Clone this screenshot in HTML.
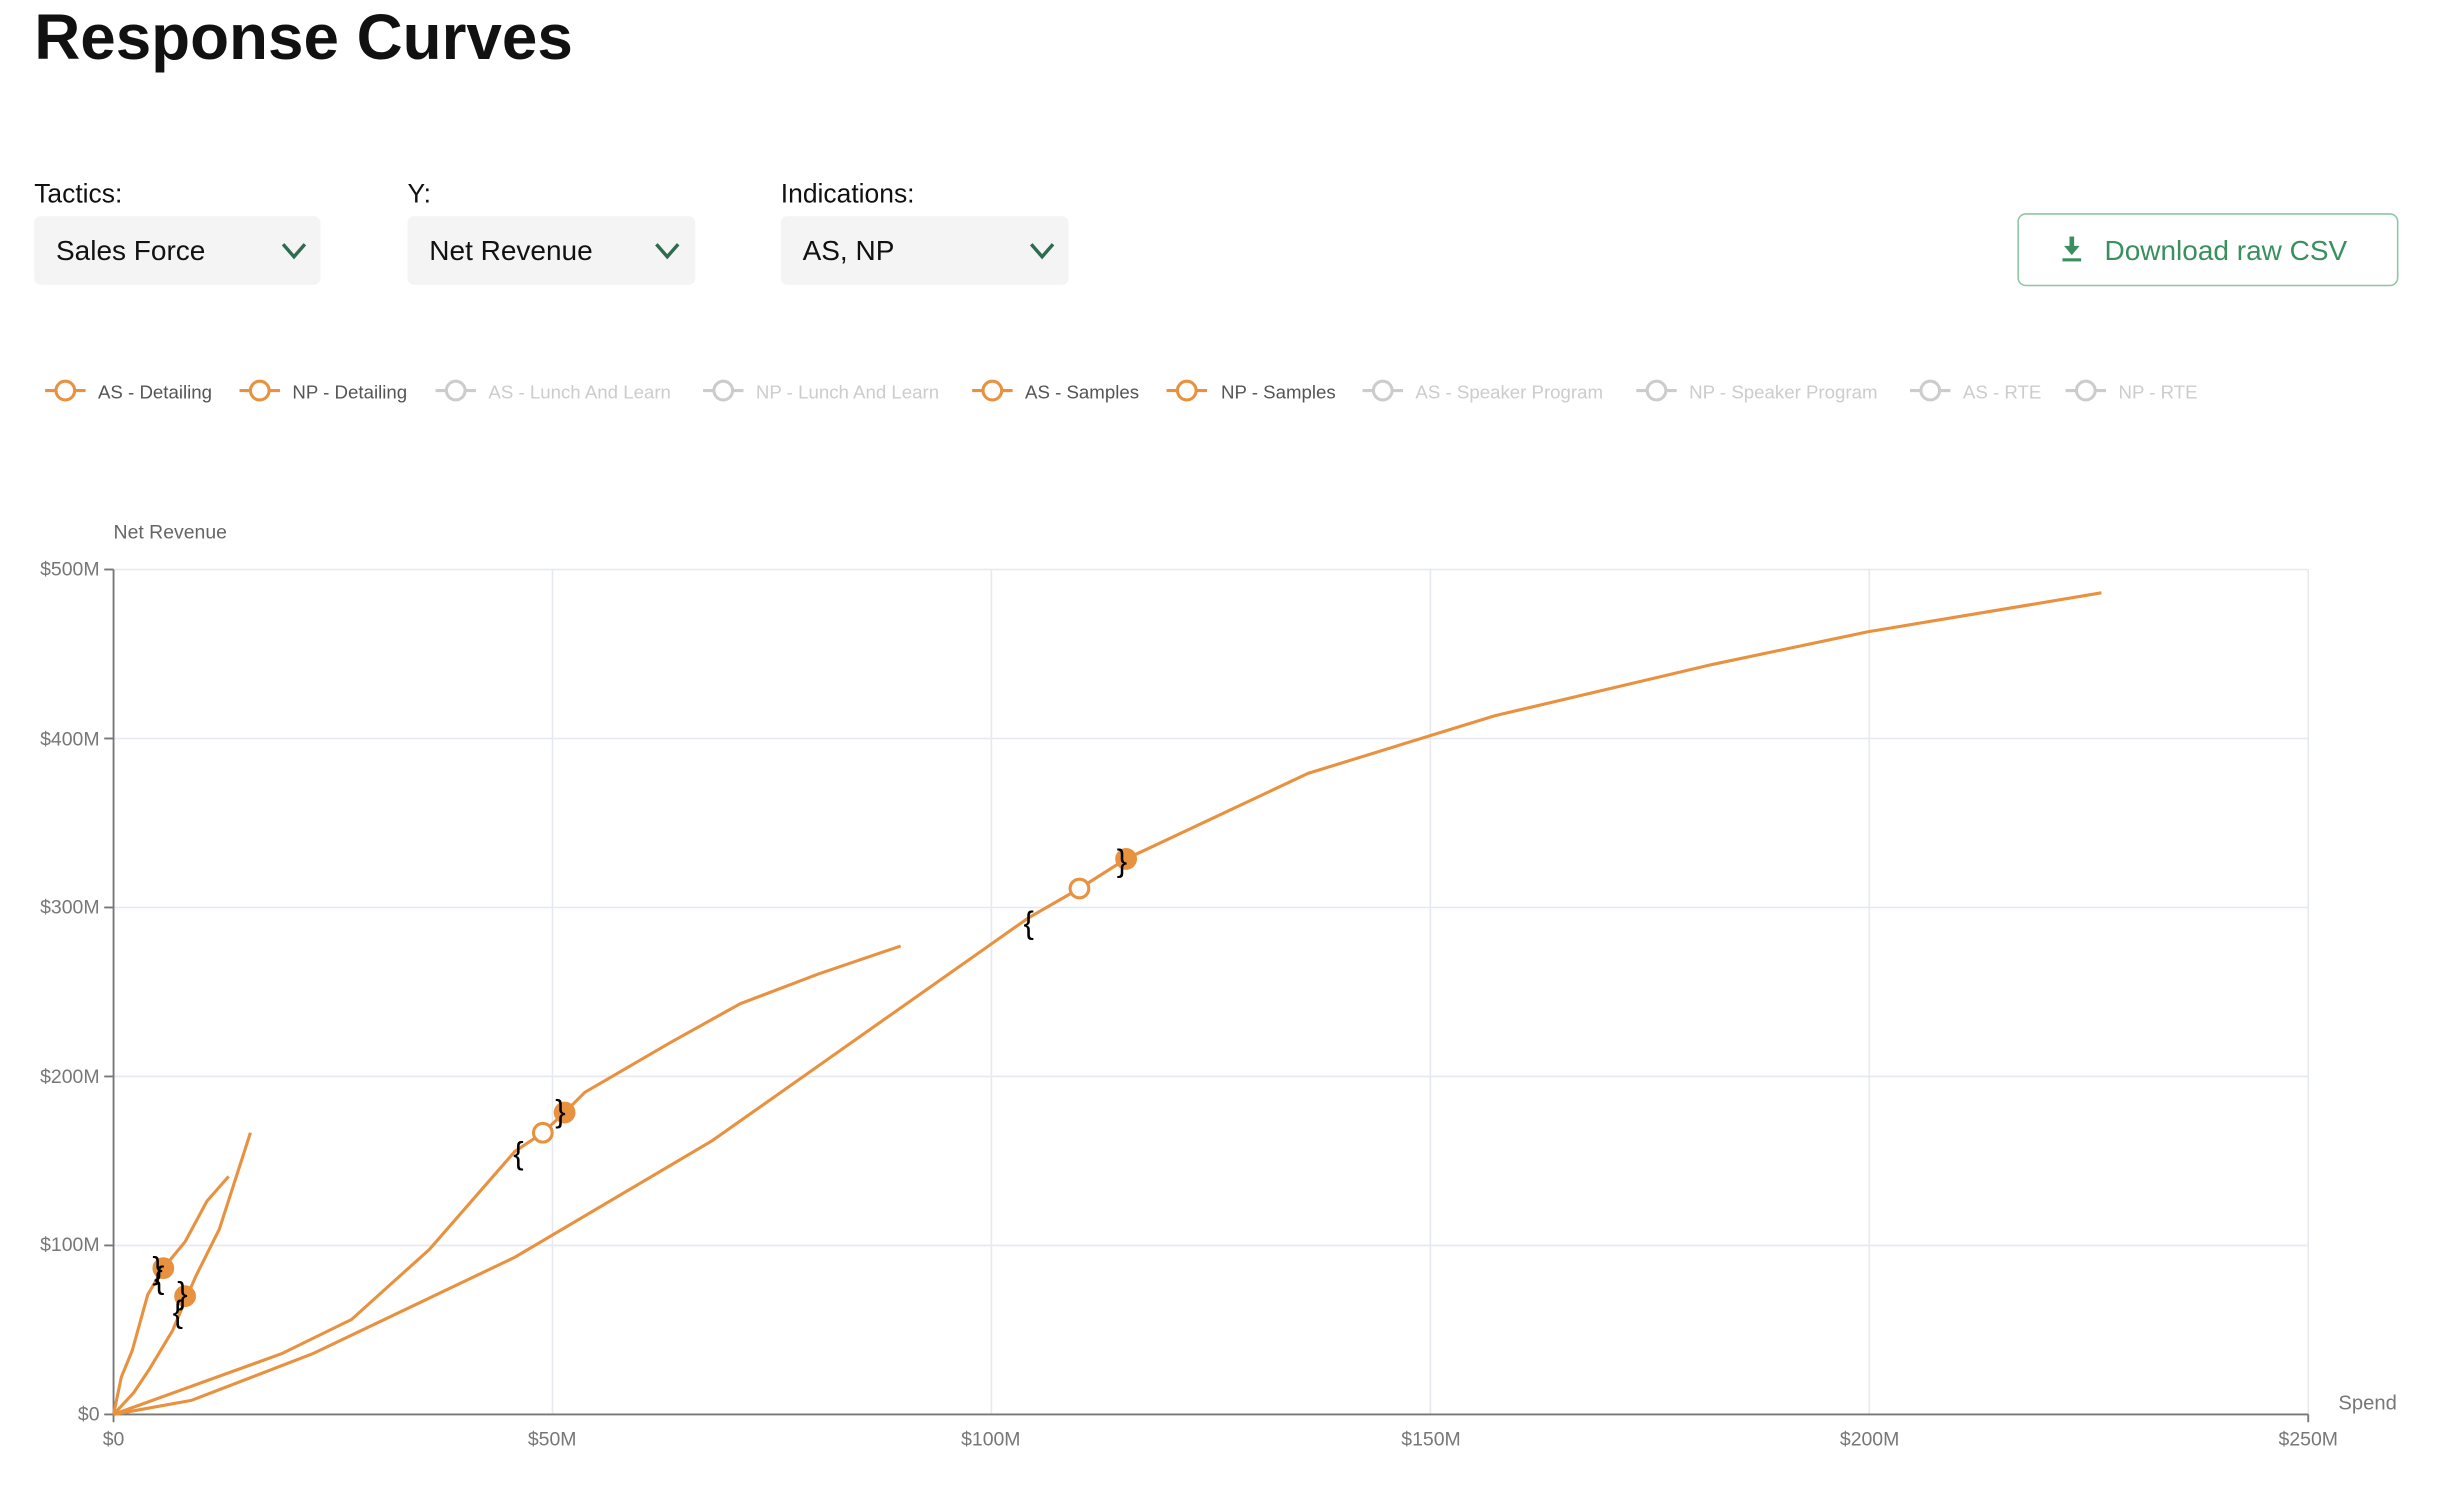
<!DOCTYPE html>
<html><head><meta charset="utf-8"><style>
html,body{margin:0;padding:0;background:#fff;width:2442px;height:1486px;overflow:hidden}
svg{display:block}
text{font-family:"Liberation Sans",sans-serif}
</style></head><body>
<svg width="2442" height="1486" viewBox="-1 0 1570 955" preserveAspectRatio="none" xmlns="http://www.w3.org/2000/svg">
<text x="21" y="38" font-size="41" font-weight="bold" fill="#111">Response Curves</text>
<text x="21" y="130" font-size="17" fill="#111">Tactics:</text>
<text x="261" y="130" font-size="17" fill="#111">Y:</text>
<text x="501" y="130" font-size="17" fill="#111">Indications:</text>
<rect x="21" y="139" width="184" height="44" rx="4" fill="#f4f4f4"/>
<rect x="261" y="139" width="185" height="44" rx="4" fill="#f4f4f4"/>
<rect x="501" y="139" width="185" height="44" rx="4" fill="#f4f4f4"/>
<text x="35" y="167" font-size="18" fill="#111">Sales Force</text>
<text x="275" y="167" font-size="18" fill="#111">Net Revenue</text>
<text x="515" y="167" font-size="18" fill="#111">AS, NP</text>
<g fill="none" stroke="#2e6b4f" stroke-width="2.2">
<polyline points="181,157 188,165 195,157"/>
<polyline points="421,157 428,165 435,157"/>
<polyline points="662,157 669,165 676,157"/>
</g>
<rect x="1296.5" y="137.5" width="244" height="46" rx="5" fill="#fff" stroke="#8cc6a4" stroke-width="1"/>
<g fill="#3a8f5f"><rect x="1329.5" y="152" width="3" height="7"/><polygon points="1326,158 1336,158 1331,164"/><rect x="1325" y="166" width="12" height="2"/></g>
<text x="1352" y="167" font-size="18" fill="#3a8f5f">Download raw CSV</text>
<g font-size="12">
<g stroke="#e8913f" stroke-width="2" fill="#fff"><line x1="28" y1="251" x2="54" y2="251"/><circle cx="41" cy="251" r="6"/></g><text x="62" y="256" fill="#555">AS - Detailing</text>
<g stroke="#e8913f" stroke-width="2" fill="#fff"><line x1="153" y1="251" x2="179" y2="251"/><circle cx="166" cy="251" r="6"/></g><text x="187" y="256" fill="#555">NP - Detailing</text>
<g stroke="#ccc" stroke-width="2" fill="#fff"><line x1="279" y1="251" x2="305" y2="251"/><circle cx="292" cy="251" r="6"/></g><text x="313" y="256" fill="#ccc">AS - Lunch And Learn</text>
<g stroke="#ccc" stroke-width="2" fill="#fff"><line x1="451" y1="251" x2="477" y2="251"/><circle cx="464" cy="251" r="6"/></g><text x="485" y="256" fill="#ccc">NP - Lunch And Learn</text>
<g stroke="#e8913f" stroke-width="2" fill="#fff"><line x1="624" y1="251" x2="650" y2="251"/><circle cx="637" cy="251" r="6"/></g><text x="658" y="256" fill="#555">AS - Samples</text>
<g stroke="#e8913f" stroke-width="2" fill="#fff"><line x1="749" y1="251" x2="775" y2="251"/><circle cx="762" cy="251" r="6"/></g><text x="784" y="256" fill="#555">NP - Samples</text>
<g stroke="#ccc" stroke-width="2" fill="#fff"><line x1="875" y1="251" x2="901" y2="251"/><circle cx="888" cy="251" r="6"/></g><text x="909" y="256" fill="#ccc">AS - Speaker Program</text>
<g stroke="#ccc" stroke-width="2" fill="#fff"><line x1="1051" y1="251" x2="1077" y2="251"/><circle cx="1064" cy="251" r="6"/></g><text x="1085" y="256" fill="#ccc">NP - Speaker Program</text>
<g stroke="#ccc" stroke-width="2" fill="#fff"><line x1="1227" y1="251" x2="1253" y2="251"/><circle cx="1240" cy="251" r="6"/></g><text x="1261" y="256" fill="#ccc">AS - RTE</text>
<g stroke="#ccc" stroke-width="2" fill="#fff"><line x1="1327" y1="251" x2="1353" y2="251"/><circle cx="1340" cy="251" r="6"/></g><text x="1361" y="256" fill="#ccc">NP - RTE</text>
</g>
<text x="72" y="346" font-size="12.5" fill="#666">Net Revenue</text>
<g stroke="#e6e8f2" stroke-width="1">
<line x1="72" y1="366" x2="1483" y2="366"/><line x1="72" y1="474.6" x2="1483" y2="474.6"/><line x1="72" y1="583.2" x2="1483" y2="583.2"/><line x1="72" y1="691.8" x2="1483" y2="691.8"/><line x1="72" y1="800.4" x2="1483" y2="800.4"/>
<line x1="354.2" y1="366" x2="354.2" y2="909"/><line x1="636.4" y1="366" x2="636.4" y2="909"/><line x1="918.6" y1="366" x2="918.6" y2="909"/><line x1="1200.8" y1="366" x2="1200.8" y2="909"/><line x1="1483" y1="366" x2="1483" y2="909"/>
</g>
<g stroke="#777" stroke-width="1.2"><line x1="72" y1="366" x2="72" y2="909"/><line x1="72" y1="909" x2="1483" y2="909"/>
<line x1="66" y1="366" x2="72" y2="366"/><line x1="66" y1="474.6" x2="72" y2="474.6"/><line x1="66" y1="583.2" x2="72" y2="583.2"/><line x1="66" y1="691.8" x2="72" y2="691.8"/><line x1="66" y1="800.4" x2="72" y2="800.4"/><line x1="66" y1="909" x2="72" y2="909"/>
<line x1="72" y1="909" x2="72" y2="914"/><line x1="1483" y1="909" x2="1483" y2="914"/></g>
<g font-size="12.5" fill="#777" text-anchor="end">
<text x="63" y="370">$500M</text><text x="63" y="479">$400M</text><text x="63" y="587">$300M</text><text x="63" y="696">$200M</text><text x="63" y="804">$100M</text><text x="63" y="913">$0</text>
</g>
<g font-size="12.5" fill="#777" text-anchor="middle">
<text x="72" y="929">$0</text><text x="354" y="929">$50M</text><text x="636" y="929">$100M</text><text x="919" y="929">$150M</text><text x="1201" y="929">$200M</text><text x="1483" y="929">$250M</text>
</g>
<text x="1540" y="906" font-size="13" fill="#777" text-anchor="end">Spend</text>
<g fill="none" stroke="#e8913f" stroke-width="2">
<polyline points="72,909 122,900 200,870 330,808 457,733 660,590 693,571 723,552 840,497 960,460 1100,427 1200,406 1350,381"/>
<polyline points="72,909 180,870 225,848 275,803 330,740 348,728 362,715 375,702 430,670 475,645 525,626 578,608"/>
<polyline points="72,909 77,885 84,868 94,832 104,815 118,798 132,772 146,756"/>
<polyline points="72,909 85,895 95,880 110,855 118,836 125,820 140,790 160,728"/>
</g>
<g stroke="#e8913f" stroke-width="2">
<circle cx="693" cy="571" r="6" fill="#fff"/><circle cx="723" cy="552" r="6" fill="#e8913f"/>
<circle cx="348" cy="728" r="6" fill="#fff"/><circle cx="362" cy="715" r="6" fill="#e8913f"/>
<circle cx="104" cy="815" r="6" fill="#e8913f"/><circle cx="118" cy="833" r="6" fill="#e8913f"/>
</g>
<g font-size="20" fill="#000" font-family="Liberation Serif,serif">
<text x="657" y="600">{</text><text x="717" y="560">}</text>
<text x="329" y="748">{</text><text x="356" y="721">}</text>
<text x="97" y="822">}</text><text x="98" y="828">{</text>
<text x="113" y="838">}</text><text x="110" y="850">{</text>
</g>
</svg>
</body></html>
